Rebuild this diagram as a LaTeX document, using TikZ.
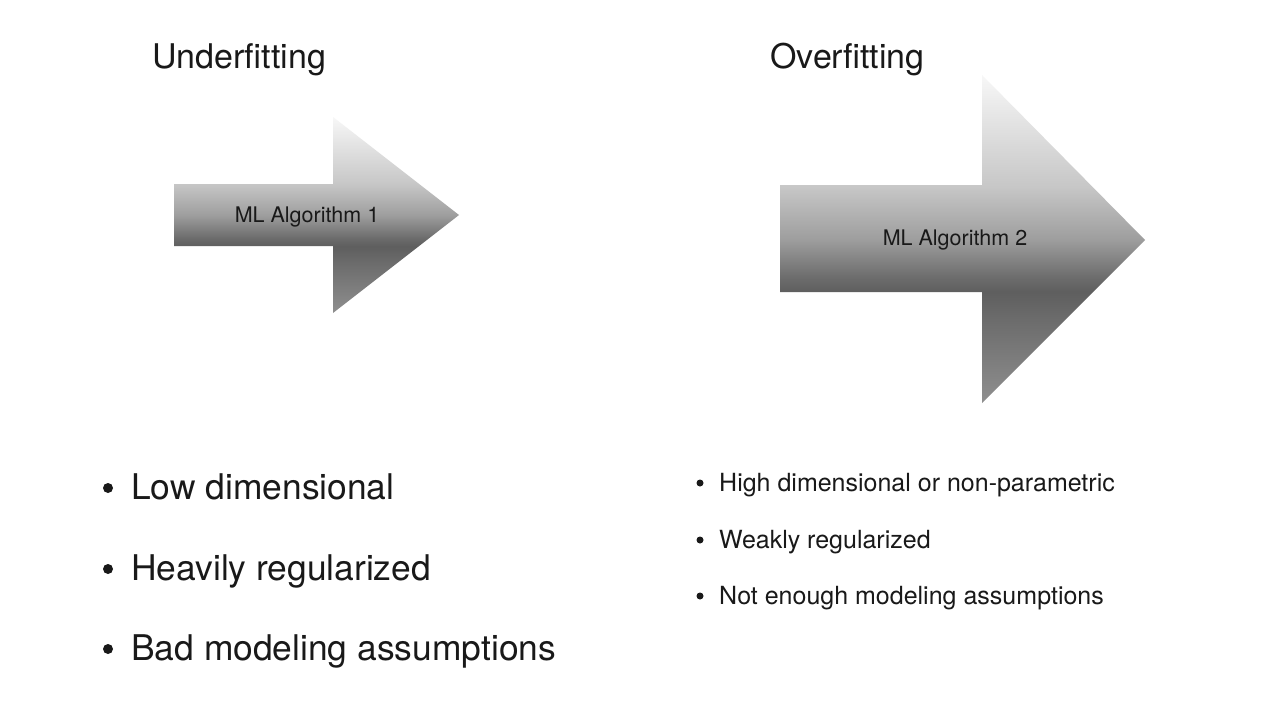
\documentclass[tikz,border=0pt]{standalone}
\usepackage{fontspec}
\setmainfont{TeX Gyre Heros}
\usetikzlibrary{positioning}
\definecolor{shadebot}{gray}{0.56}
\definecolor{shadedark}{gray}{0.42}
\definecolor{shadedeep}{gray}{0.37}
\definecolor{shademid}{gray}{0.62}
\definecolor{shadeup}{gray}{0.78}
\definecolor{shadetop}{gray}{0.97}
\definecolor{txt}{gray}{0.1}
\pgfdeclareverticalshading{arrowshade}{100bp}{color(0bp)=(shadebot); color(25bp)=(shadebot);
  color(38bp)=(shadedark); color(42bp)=(shadedeep); color(44bp)=(shadedark);
  color(50bp)=(shademid); color(58bp)=(shadeup); color(75bp)=(shadetop); color(100bp)=(shadetop)}
\tikzset{
  title/.style={anchor=base west,inner sep=0pt,text=txt,font=\fontsize{34}{40}\selectfont},
  bigitem/.style={anchor=base west,inner sep=0pt,text=txt,font=\fontsize{35.4}{40}\selectfont},
  smallitem/.style={anchor=base west,inner sep=0pt,text=txt,font=\fontsize{25}{28}\selectfont},
  algo/.style={inner sep=0pt,text=txt,font=\fontsize{21.5}{24}\selectfont},
  dot/.style={circle,fill=txt,inner sep=0pt,minimum size=#1},
}
\begin{document}
\begin{tikzpicture}[x=1pt,y=-1pt]
  % page
  \fill[white] (0,0) rectangle (1280,720);
  \useasboundingbox (0,0) rectangle (1280,720);
  % titles
  \node[title] (under) at (152,68) {Underfitting};
  \node[title] (over) at (770,68) {Overfitting};
  % shaded arrows
  \shade[shading=arrowshade] (174,184) -- (333,184) -- (333,117) -- (459,215)
    -- (333,313) -- (333,246) -- (174,246) -- cycle;
  \shade[shading=arrowshade] (780,185) -- (982,185) -- (982,75) -- (1145,240)
    -- (982,403) -- (982,292) -- (780,292) -- cycle;
  \node[algo,anchor=base] (alg1) at (307,222) {ML Algorithm 1};
  \node[algo,anchor=base] (alg2) at (955,245) {ML Algorithm 2};
  % underfitting list
  \node[bigitem] (low) at (131,499) {Low dimensional};
  \node[bigitem] (heavy) at (131,580) {Heavily regularized};
  \node[bigitem] (bad) at (131,660) {Bad modeling assumptions};
  \node[dot=10pt] (b1) at (108,488) {};
  \node[dot=10pt] (b2) at (108,569) {};
  \node[dot=10pt] (b3) at (108,649) {};
  % overfitting list
  \node[smallitem] (high) at (719,491) {High dimensional or non-parametric};
  \node[smallitem] (weak) at (719,548) {Weakly regularized};
  \node[smallitem] (enough) at (719,604) {Not enough modeling assumptions};
  \node[dot=7pt] (b4) at (700,483) {};
  \node[dot=7pt] (b5) at (700,540) {};
  \node[dot=7pt] (b6) at (700,596) {};
\end{tikzpicture}
\end{document}
